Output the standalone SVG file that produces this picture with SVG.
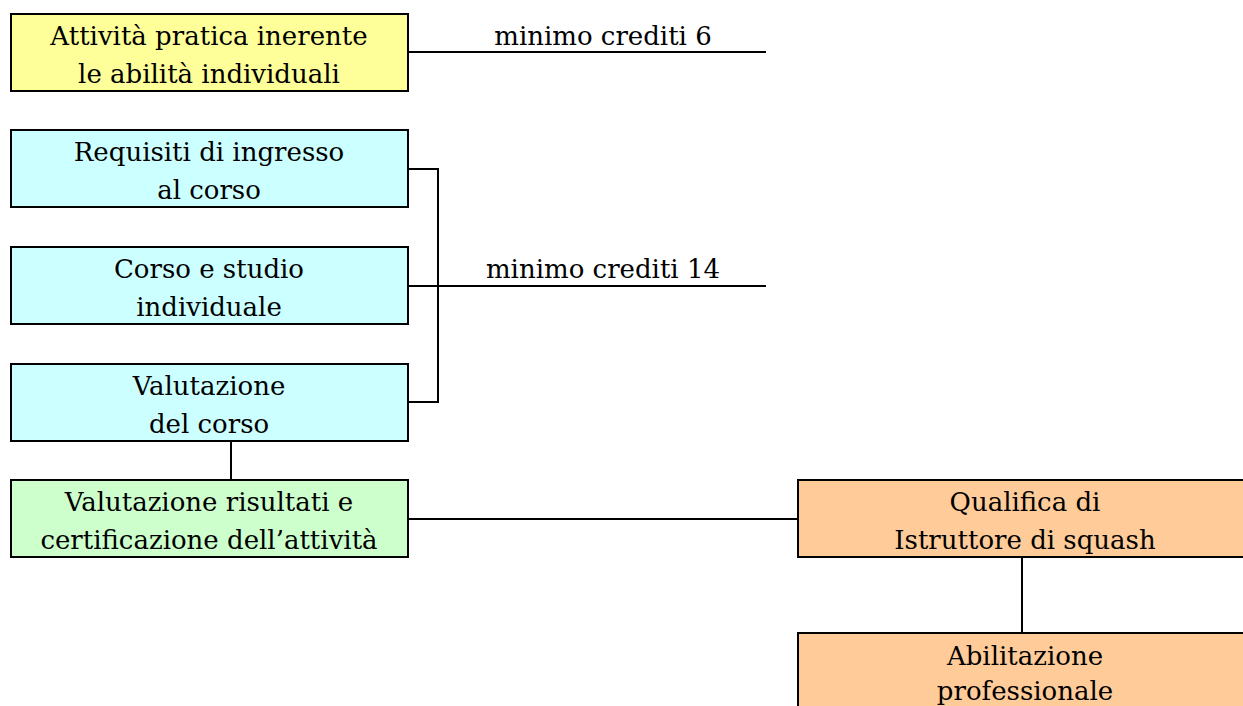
<svg xmlns="http://www.w3.org/2000/svg" width="1243" height="706" viewBox="0 0 1243 706">
<style>
.box{stroke:#000;stroke-width:2}
.y{fill:#FFFF99}.c{fill:#CCFFFF}.g{fill:#CCFFCC}.o{fill:#FFCC99}
text{font-family:"DejaVu Serif","Liberation Serif",serif;font-size:26px;fill:#000;text-anchor:middle}
.ln{stroke:#000;stroke-width:2;fill:none}
</style>
<rect width="1243" height="706" fill="#fff"/>
<g id="connectors">
<path class="ln" d="M408 52H766"/>
<path class="ln" d="M408 169H438V402H408M408 286H766"/>
<path class="ln" d="M231 441V480"/>
<path class="ln" d="M408 519H798"/>
<path class="ln" d="M1022 557V633"/>
<text x="603" y="45">minimo crediti 6</text>
<text x="603" y="278">minimo crediti 14</text>
</g>
<g id="n1"><rect class="box y" x="11" y="14" width="397" height="77"/><text x="209" y="45">Attività pratica inerente</text><text x="209" y="83">le abilità individuali</text></g>
<g id="n2"><rect class="box c" x="11" y="130" width="397" height="77"/><text x="209" y="161">Requisiti di ingresso</text><text x="209" y="199">al corso</text></g>
<g id="n3"><rect class="box c" x="11" y="247" width="397" height="77"/><text x="209" y="278">Corso e studio</text><text x="209" y="316">individuale</text></g>
<g id="n4"><rect class="box c" x="11" y="364" width="397" height="77"/><text x="209" y="395">Valutazione</text><text x="209" y="433">del corso</text></g>
<g id="n5"><rect class="box g" x="11" y="480" width="397" height="77"/><text x="209" y="511">Valutazione risultati e</text><text x="209" y="549">certificazione dell’attività</text></g>
<g id="n6"><rect class="box o" x="798" y="480" width="460" height="77"/><text x="1025" y="511">Qualifica di</text><text x="1025" y="549">Istruttore di squash</text></g>
<g id="n7"><rect class="box o" x="798" y="633" width="460" height="90"/><text x="1025" y="665">Abilitazione</text><text x="1025" y="700">professionale</text></g>
</svg>
